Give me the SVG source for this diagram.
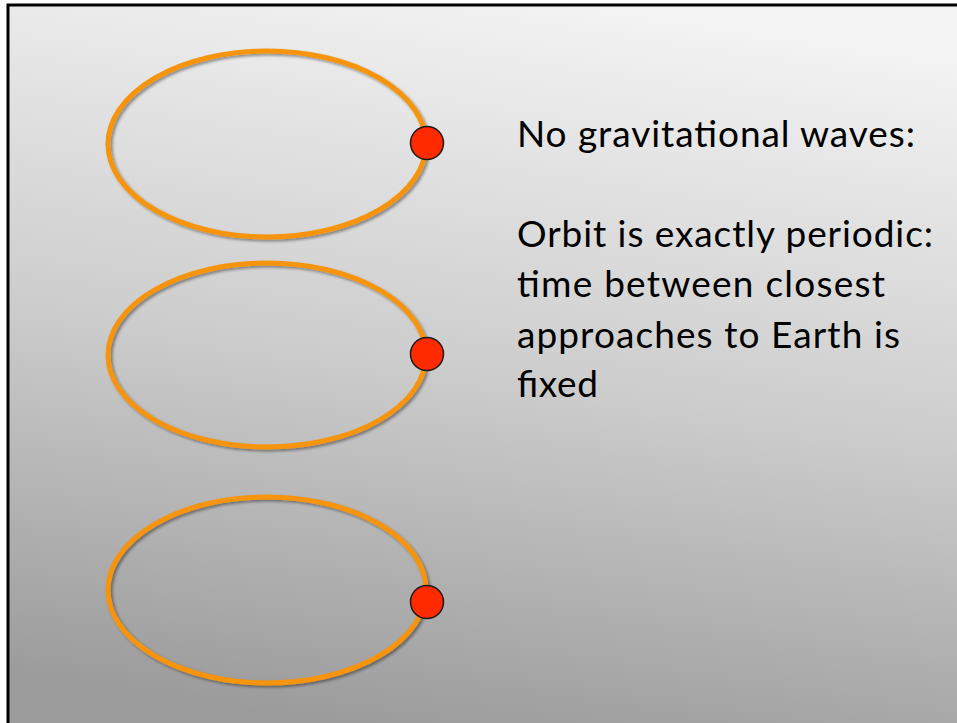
<svg xmlns="http://www.w3.org/2000/svg" width="957" height="723" viewBox="0 0 957 723">
<defs>
<linearGradient id="bg" x1="0.6" y1="0" x2="0.4" y2="1">
<stop offset="0" stop-color="#f3f3f3"/>
<stop offset="0.5" stop-color="#cdcdcd"/>
<stop offset="1" stop-color="#9b9b9b"/>
</linearGradient>
<filter id="sh" x="-10%" y="-10%" width="120%" height="120%">
<feGaussianBlur in="SourceAlpha" stdDeviation="1.5"/>
<feOffset dx="1.5" dy="2" result="b"/>
<feComponentTransfer><feFuncA type="linear" slope="0.4"/></feComponentTransfer>
<feMerge><feMergeNode/><feMergeNode in="SourceGraphic"/></feMerge>
</filter>
</defs>
<style>
.orbit{fill:none;stroke:#F7940A;stroke-width:5;filter:url(#sh)}
.body{fill:#FF2A00;stroke:#1a1a1a;stroke-width:1.5}
.t{font-family:Lato,"Open Sans","Liberation Sans",sans-serif;font-size:37px;fill:#000}
</style>
<rect x="8" y="5" width="960" height="730" fill="url(#bg)" stroke="#000" stroke-width="3"/>
<g id="orbit1">
<ellipse class="orbit" cx="267" cy="144" rx="159" ry="93"/>
<circle class="body" cx="427" cy="143" r="16.5"/>
</g>
<g id="orbit2">
<ellipse class="orbit" cx="267" cy="355" rx="159" ry="92"/>
<circle class="body" cx="427" cy="354" r="16.5"/>
</g>
<g id="orbit3">
<ellipse class="orbit" cx="267" cy="590" rx="159" ry="93"/>
<circle class="body" cx="427" cy="602" r="16.5"/>
</g>
<g id="caption">
<text class="t" x="517" y="147" textLength="398">No gravitational waves:</text>
<text class="t" x="517" y="247" textLength="416">Orbit is exactly periodic:</text>
<text class="t" x="517" y="297" textLength="368">time between closest</text>
<text class="t" x="517" y="348" textLength="383">approaches to Earth is</text>
<text class="t" x="517" y="397" textLength="81">fixed</text>
</g>
<g id="connectors"/>
</svg>
